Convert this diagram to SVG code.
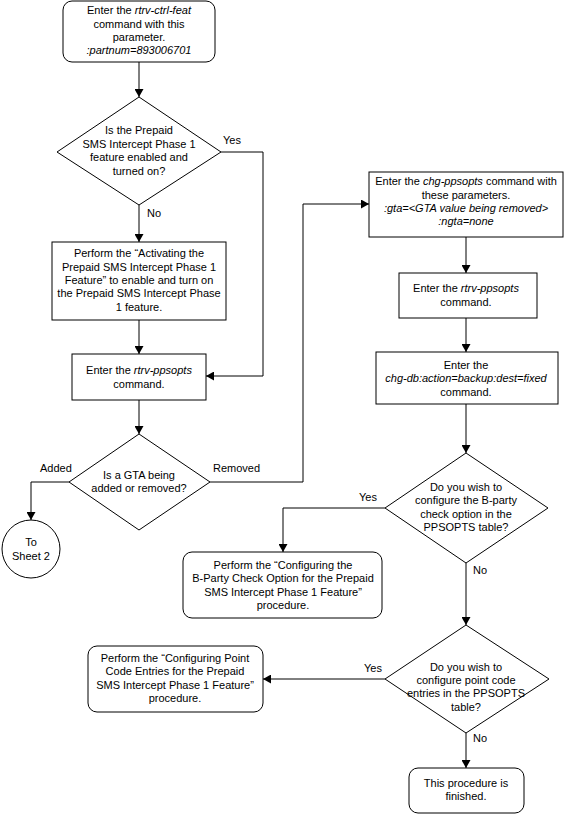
<svg xmlns="http://www.w3.org/2000/svg" width="565" height="814" viewBox="0 0 565 814">
<defs>
<marker id="arr" markerWidth="9" markerHeight="9" refX="8" refY="4.5" orient="auto" markerUnits="userSpaceOnUse">
<path d="M0,0 L8,4.5 L0,9 Z" fill="#000"/>
</marker>
</defs>
<style>
text{font-family:"Liberation Sans",Arial,sans-serif;font-size:11px;fill:#000;text-anchor:middle}
.l{text-anchor:start}
.i{font-style:italic}
.s{fill:#fff;stroke:#000;stroke-width:1}
.c{fill:none;stroke:#000;stroke-width:1;marker-end:url(#arr)}
.p{fill:none;stroke:#000;stroke-width:1}
</style>
<rect width="565" height="814" fill="#fff"/>
<g id="connectors">
<path class="c" d="M139,62 V97"/>
<path class="p" d="M221,152 H263 V376"/>
<path class="c" d="M263,376 H206"/>
<path class="c" d="M139,205 V242"/>
<path class="c" d="M139,320 V354"/>
<path class="c" d="M139,400 V434"/>
<path class="c" d="M69,482 H31 V520"/>
<path class="c" d="M210,482 H303 V204 H369"/>
<path class="c" d="M466,237 V273"/>
<path class="c" d="M466,318 V352"/>
<path class="c" d="M466,404 V453"/>
<path class="c" d="M385,508 H283 V552"/>
<path class="c" d="M466,563 V625"/>
<path class="c" d="M385,679 H263"/>
<path class="c" d="M466,733 V768"/>
</g>
<g id="labels">
<text class="l" x="223" y="144">Yes</text>
<text class="l" x="147" y="217">No</text>
<text class="l" x="40" y="472">Added</text>
<text class="l" x="213" y="472">Removed</text>
<text class="l" x="359" y="501">Yes</text>
<text class="l" x="473" y="574">No</text>
<text class="l" x="364" y="672">Yes</text>
<text class="l" x="473" y="742">No</text>
</g>
<g id="n1">
<rect class="s" x="63" y="1" width="152" height="61" rx="9"/>
<text x="139" y="14">Enter the <tspan class="i">rtrv-ctrl-feat</tspan></text>
<text x="139" y="27.5">command with this</text>
<text x="139" y="41">parameter.</text>
<text x="139" y="54" class="i">:partnum=893006701</text>
</g>
<g id="d1">
<path class="s" d="M139,97 L221,152 L139,205 L57,152 Z"/>
<text x="139" y="134">Is the Prepaid</text>
<text x="139" y="148">SMS Intercept Phase 1</text>
<text x="139" y="161">feature enabled and</text>
<text x="139" y="174.5">turned on?</text>
</g>
<g id="n2">
<rect class="s" x="52" y="242" width="174" height="78"/>
<text x="139" y="257">Perform the “Activating the</text>
<text x="139" y="270.5">Prepaid SMS Intercept Phase 1</text>
<text x="139" y="284">Feature” to enable and turn on</text>
<text x="139" y="297">the Prepaid SMS Intercept Phase</text>
<text x="139" y="310.5">1 feature.</text>
</g>
<g id="n3">
<rect class="s" x="72" y="354" width="134" height="46"/>
<text x="139" y="374">Enter the <tspan class="i">rtrv-ppsopts</tspan></text>
<text x="139" y="388">command.</text>
</g>
<g id="d2">
<path class="s" d="M139,434 L210,482 L139,530 L69,482 Z"/>
<text x="139" y="479">Is a GTA being</text>
<text x="139" y="492">added or removed?</text>
</g>
<g id="sheet2">
<circle class="s" cx="31" cy="549" r="29"/>
<text x="31" y="546">To</text>
<text x="31" y="560">Sheet 2</text>
</g>
<g id="n4">
<rect class="s" x="369" y="172" width="194" height="65"/>
<text x="466" y="185">Enter the <tspan class="i">chg-ppsopts</tspan> command with</text>
<text x="466" y="198.5">these parameters.</text>
<text x="466" y="212" class="i">:gta=&lt;GTA value being removed&gt;</text>
<text x="466" y="225" class="i">:ngta=none</text>
</g>
<g id="n5">
<rect class="s" x="399" y="273" width="138" height="45"/>
<text x="466" y="292">Enter the <tspan class="i">rtrv-ppsopts</tspan></text>
<text x="466" y="306">command.</text>
</g>
<g id="n6">
<rect class="s" x="376" y="352" width="182" height="52"/>
<text x="466" y="369">Enter the</text>
<text x="466" y="382" class="i">chg-db:action=backup:dest=fixed</text>
<text x="466" y="396">command.</text>
</g>
<g id="d3">
<path class="s" d="M466,453 L548,508 L466,563 L385,508 Z"/>
<text x="466" y="491">Do you wish to</text>
<text x="466" y="504">configure the B-party</text>
<text x="466" y="518">check option in the</text>
<text x="466" y="531">PPSOPTS table?</text>
</g>
<g id="n7">
<rect class="s" x="183" y="552" width="199" height="66" rx="9"/>
<text x="283" y="569">Perform the “Configuring the</text>
<text x="283" y="582">B-Party Check Option for the Prepaid</text>
<text x="283" y="596">SMS Intercept Phase 1 Feature”</text>
<text x="283" y="609">procedure.</text>
</g>
<g id="d4">
<path class="s" d="M466,625 L549,679 L466,733 L385,679 Z"/>
<text x="466" y="671">Do you wish to</text>
<text x="466" y="684">configure point code</text>
<text x="466" y="697">entries in the PPSOPTS</text>
<text x="466" y="711">table?</text>
</g>
<g id="n8">
<rect class="s" x="88" y="646" width="175" height="66" rx="9"/>
<text x="175" y="662">Perform the “Configuring Point</text>
<text x="175" y="675">Code Entries for the Prepaid</text>
<text x="175" y="689">SMS Intercept Phase 1 Feature”</text>
<text x="175" y="702">procedure.</text>
</g>
<g id="n9">
<rect class="s" x="409" y="768" width="115" height="45" rx="9"/>
<text x="466" y="787">This procedure is</text>
<text x="466" y="800">finished.</text>
</g>
</svg>
